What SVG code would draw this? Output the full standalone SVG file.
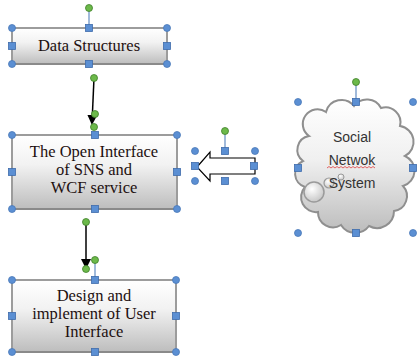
<svg xmlns="http://www.w3.org/2000/svg" width="417" height="357" viewBox="0 0 417 357">
<defs>
<linearGradient id="boxg" x1="0" y1="0" x2="0" y2="1">
<stop offset="0" stop-color="#ffffff"/>
<stop offset="0.4" stop-color="#f2f2f2"/>
<stop offset="1" stop-color="#bdbdbd"/>
</linearGradient>
<linearGradient id="cloudg" x1="0" y1="0" x2="0" y2="1">
<stop offset="0" stop-color="#ffffff"/>
<stop offset="0.45" stop-color="#f0f0f0"/>
<stop offset="1" stop-color="#bcbcbc"/>
</linearGradient>
<radialGradient id="bubg" cx="0.4" cy="0.35" r="0.7">
<stop offset="0" stop-color="#ffffff"/>
<stop offset="1" stop-color="#c4c4c4"/>
</radialGradient>
<marker id="ah" markerWidth="10" markerHeight="10" refX="8" refY="5" orient="auto" markerUnits="userSpaceOnUse">
<path d="M0,0 L10,5 L0,10 Z" fill="#000"/>
</marker>
</defs>
<style>
.box{fill:url(#boxg);stroke:#9c9c9c;stroke-width:2}
.shadow{fill:none;stroke:#8a8a8a;stroke-width:2}
.t{font-family:'Liberation Serif','Times New Roman',serif;font-size:16.5px;fill:#1e1010;text-anchor:middle}
.ct{font-family:'Liberation Sans',Arial,sans-serif;font-size:14px;fill:#333;text-anchor:middle}
.hc{fill:#5b8fd3;stroke:#4a78b8;stroke-width:0.8}
.hs{fill:#5b8fd3;stroke:#3f6cab;stroke-width:0.8}
.g{fill:#6cb94a;stroke:#3f7f2a;stroke-width:0.8}
.rl{stroke:#6f95c7;stroke-width:1.3}
.conn{stroke:#000;stroke-width:1.5;fill:none}
</style>

<g id="connectors">
<line class="conn" x1="94" y1="78" x2="92" y2="123" marker-end="url(#ah)"/>
<line class="conn" x1="86" y1="222" x2="86" y2="267" marker-end="url(#ah)"/>
<circle class="g" cx="94" cy="78" r="3.5"/>
<circle class="g" cx="95" cy="114" r="3.5"/>
<circle class="g" cx="94" cy="127" r="3.5"/>
<circle class="g" cx="86" cy="222" r="3.5"/>
<circle class="g" cx="86" cy="269" r="3.5"/>
</g>

<g id="data-structures">
<line class="rl" x1="89" y1="8" x2="89" y2="28"/>
<rect class="box" x="12" y="28" width="155" height="36"/>
<line class="shadow" x1="13" y1="64" x2="167" y2="64"/>
<text class="t" x="89" y="51">Data Structures</text>
<circle class="g" cx="89" cy="8" r="3.5"/>
<circle class="hc" cx="12" cy="28" r="3.5"/><circle class="hc" cx="167" cy="28" r="3.5"/>
<circle class="hc" cx="12" cy="64" r="3.5"/><circle class="hc" cx="167" cy="64" r="3.5"/>
<rect class="hs" x="85.5" y="24.5" width="7" height="7"/><rect class="hs" x="85.5" y="60.5" width="7" height="7"/>
<rect class="hs" x="8.5" y="42.5" width="7" height="7"/><rect class="hs" x="163.5" y="42.5" width="7" height="7"/>
</g>

<g id="open-interface">
<rect class="box" x="12" y="135" width="165" height="74"/>
<line class="shadow" x1="13" y1="209" x2="177" y2="209"/>
<text class="t" x="94" y="157">The Open Interface</text>
<text class="t" x="94" y="175">of SNS and</text>
<text class="t" x="94" y="193">WCF service</text>
<circle class="hc" cx="12" cy="135" r="3.5"/><circle class="hc" cx="177" cy="135" r="3.5"/>
<circle class="hc" cx="12" cy="209" r="3.5"/><circle class="hc" cx="177" cy="209" r="3.5"/>
<rect class="hs" x="91.5" y="131.5" width="7" height="7"/><rect class="hs" x="91.5" y="205.5" width="7" height="7"/>
<rect class="hs" x="8.5" y="168.5" width="7" height="7"/><rect class="hs" x="173.5" y="168.5" width="7" height="7"/>
</g>

<g id="user-interface">
<line class="rl" x1="95" y1="260" x2="95" y2="280"/>
<rect class="box" x="12" y="280" width="164" height="72"/>
<line class="shadow" x1="13" y1="352" x2="176" y2="352"/>
<text class="t" x="94" y="301">Design and</text>
<text class="t" x="94" y="319">implement of User</text>
<text class="t" x="94" y="337">Interface</text>
<circle class="g" cx="95" cy="260" r="3.5"/>
<circle class="hc" cx="12" cy="280" r="3.5"/><circle class="hc" cx="176" cy="280" r="3.5"/>
<circle class="hc" cx="12" cy="352" r="3.5"/><circle class="hc" cx="176" cy="352" r="3.5"/>
<rect class="hs" x="91.5" y="276.5" width="7" height="7"/><rect class="hs" x="91.5" y="348.5" width="7" height="7"/>
<rect class="hs" x="8.5" y="312.5" width="7" height="7"/><rect class="hs" x="172.5" y="312.5" width="7" height="7"/>
</g>

<g id="left-arrow">
<line class="rl" x1="225" y1="131" x2="225" y2="151"/>
<path d="M197,167 L210,152 L210,158 L255,158 L255,174 L210,174 L210,181 Z" fill="#fff" stroke="#000" stroke-width="1.2"/>
<circle class="g" cx="225" cy="131" r="3.5"/>
<circle class="hc" cx="195" cy="151" r="3.5"/><circle class="hc" cx="255" cy="151" r="3.5"/>
<circle class="hc" cx="195" cy="181" r="3.5"/><circle class="hc" cx="255" cy="181" r="3.5"/>
<rect class="hs" x="221.5" y="147.5" width="7" height="7"/><rect class="hs" x="221.5" y="177.5" width="7" height="7"/>
<rect class="hs" x="191.5" y="162.5" width="7" height="7"/><rect class="hs" x="250.5" y="162.5" width="7" height="7"/>
</g>

<g id="social-network">
<line class="rl" x1="356" y1="82" x2="356" y2="102"/>
<path d="M309,136 A14,14 0 0 1 326,112 A16,16 0 0 1 354,106 A16,16 0 0 1 381,108 A15,15 0 0 1 400,126 A16,16 0 0 1 405,156 A16,16 0 0 1 403,186 A15,15 0 0 1 394,211 A17,17 0 0 1 369,226 A17,17 0 0 1 341,225 A15,15 0 0 1 318,212 A15,15 0 0 1 305,187 A14,14 0 0 1 303,161 A14,14 0 0 1 309,136 Z" fill="url(#cloudg)" stroke="#8f8f8f" stroke-width="2"/>
<circle cx="314" cy="192" r="10" fill="url(#bubg)" stroke="#9a9a9a" stroke-width="1.5"/>
<circle cx="329" cy="183" r="5" fill="url(#bubg)" stroke="#9a9a9a" stroke-width="1.2"/>
<circle cx="341" cy="177" r="3" fill="url(#bubg)" stroke="#9a9a9a" stroke-width="1"/>
<text class="ct" x="352" y="142">Social</text>
<text class="ct" x="352" y="165">Netwok</text>
<path d="M327,168 l2,-1.5 l2,1.5 l2,-1.5 l2,1.5 l2,-1.5 l2,1.5 l2,-1.5 l2,1.5 l2,-1.5 l2,1.5 l2,-1.5 l2,1.5 l2,-1.5 l2,1.5 l2,-1.5 l2,1.5 l2,-1.5 l2,1.5 l2,-1.5 l2,1.5 l2,-1.5 l2,1.5 l2,-1.5 l2,1.5" fill="none" stroke="#e04040" stroke-width="0.8"/>
<text class="ct" x="352" y="188">System</text>
<circle class="g" cx="356" cy="82" r="3.5"/>
<circle class="hc" cx="298" cy="102" r="3.5"/><circle class="hc" cx="413" cy="102" r="3.5"/>
<circle class="hc" cx="298" cy="233" r="3.5"/><circle class="hc" cx="413" cy="233" r="3.5"/>
<rect class="hs" x="352.5" y="98.5" width="7" height="7"/><rect class="hs" x="352.5" y="229.5" width="7" height="7"/>
<rect class="hs" x="294.5" y="164.5" width="7" height="7"/><rect class="hs" x="409.5" y="164.5" width="7" height="7"/>
</g>
</svg>
